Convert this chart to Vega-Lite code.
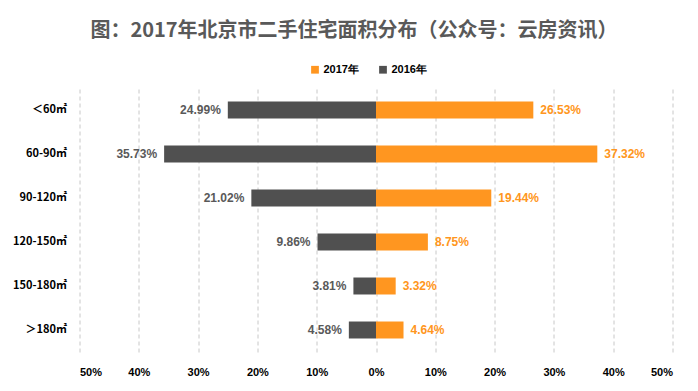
{
  "$schema": "https://vega.github.io/schema/vega-lite/v6.json",
  "width": 593,
  "height": 264,
  "autosize": {"type": "none"},
  "padding": {"left": 79.5, "top": 88, "right": 25.5, "bottom": 39},
  "background": "white",
  "title": {
    "text": "图：2017年北京市二手住宅面积分布（公众号：云房资讯）",
    "font": "Noto Sans CJK SC",
    "fontSize": 20,
    "fontWeight": "bold",
    "color": "#595959",
    "anchor": "middle",
    "frame": "group",
    "dx": -22,
    "offset": 23
  },
  "data": {
    "values": [
      {"area": "＜60㎡", "year": "2016年", "pct": 24.99},
      {"area": "＜60㎡", "year": "2017年", "pct": 26.53},
      {"area": "60-90㎡", "year": "2016年", "pct": 35.73},
      {"area": "60-90㎡", "year": "2017年", "pct": 37.32},
      {"area": "90-120㎡", "year": "2016年", "pct": 21.02},
      {"area": "90-120㎡", "year": "2017年", "pct": 19.44},
      {"area": "120-150㎡", "year": "2016年", "pct": 9.86},
      {"area": "120-150㎡", "year": "2017年", "pct": 8.75},
      {"area": "150-180㎡", "year": "2016年", "pct": 3.81},
      {"area": "150-180㎡", "year": "2017年", "pct": 3.32},
      {"area": "＞180㎡", "year": "2016年", "pct": 4.58},
      {"area": "＞180㎡", "year": "2017年", "pct": 4.64}
    ]
  },
  "transform": [
    {"calculate": "datum.year === '2016年' ? -datum.pct : datum.pct", "as": "pos"},
    {"calculate": "format(datum.pct, '.2f') + '%'", "as": "label"}
  ],
  "encoding": {
    "y": {
      "field": "area",
      "type": "nominal",
      "sort": ["＜60㎡", "60-90㎡", "90-120㎡", "120-150㎡", "150-180㎡", "＞180㎡"],
      "scale": {"paddingInner": 0.614, "paddingOuter": 0.307},
      "axis": {
        "title": null,
        "domain": false,
        "ticks": false,
        "grid": false,
        "labelFont": "Noto Sans CJK SC",
        "labelFontSize": 11,
        "labelFontWeight": "bold",
        "labelColor": "#000000",
        "labelPadding": 13
      }
    }
  },
  "layer": [
    {
      "mark": {"type": "bar"},
      "encoding": {
        "x": {
          "field": "pos",
          "type": "quantitative",
          "scale": {"domain": [-50, 50], "nice": false},
          "axis": {
            "title": null,
            "values": [-50, -40, -30, -20, -10, 0, 10, 20, 30, 40, 50],
            "labelExpr": "abs(datum.value) + '%'",
            "domain": false,
            "ticks": false,
            "grid": true,
            "gridColor": "#C8C8C8",
            "gridDash": [4, 3],
            "gridWidth": 1,
            "labelFont": "Liberation Sans",
            "labelFontSize": 11,
            "labelFontWeight": "bold",
            "labelColor": "#000000",
            "labelPadding": 14
          }
        },
        "color": {
          "field": "year",
          "type": "nominal",
          "sort": ["2017年", "2016年"],
          "scale": {"domain": ["2017年", "2016年"], "range": ["#FF9620", "#505050"]},
          "legend": {
            "title": null,
            "orient": "none",
            "direction": "horizontal",
            "legendX": 230,
            "legendY": -24,
            "symbolType": "square",
            "symbolSize": 60,
            "labelFont": "Liberation Sans",
            "labelFontSize": 11,
            "labelFontWeight": "bold",
            "labelColor": "#000000",
            "columnPadding": 18,
            "labelOffset": 3
          }
        }
      }
    },
    {
      "transform": [{"filter": "datum.year === '2016年'"}],
      "mark": {"type": "text", "align": "right", "baseline": "middle", "dx": -7, "font": "Liberation Sans", "fontSize": 12, "fontWeight": "bold", "color": "#595959"},
      "encoding": {
        "x": {"field": "pos", "type": "quantitative"},
        "text": {"field": "label", "type": "nominal"}
      }
    },
    {
      "transform": [{"filter": "datum.year === '2017年'"}],
      "mark": {"type": "text", "align": "left", "baseline": "middle", "dx": 7, "font": "Liberation Sans", "fontSize": 12, "fontWeight": "bold", "color": "#FF9620"},
      "encoding": {
        "x": {"field": "pos", "type": "quantitative"},
        "text": {"field": "label", "type": "nominal"}
      }
    }
  ],
  "config": {"view": {"stroke": null}}
}
